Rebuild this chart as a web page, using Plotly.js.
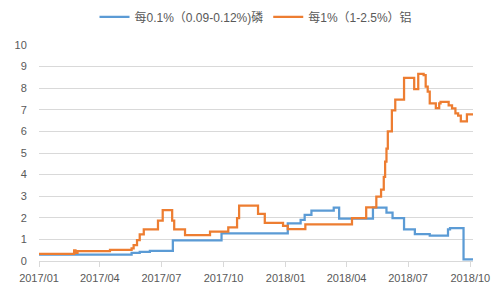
<!DOCTYPE html>
<html>
<head>
<meta charset="utf-8">
<script src="https://cdn.plot.ly/plotly-3.0.1.min.js"></script>
<style>html,body{margin:0;padding:0;background:#fff;}#chart{width:493px;height:296px;}</style>
</head>
<body>
<div id="chart"></div>
<script>
// Series 1: 每0.1%（0.09-0.12%)磷 (step change points)
var pDates = ['2017-01-01','2017-05-18','2017-05-30','2017-06-14','2017-07-18','2017-09-28',
  '2018-01-04','2018-01-23','2018-01-29','2018-02-08','2018-03-13','2018-03-21','2018-05-10',
  '2018-05-30','2018-06-08','2018-06-25','2018-07-11','2018-08-02','2018-08-29','2018-09-01',
  '2018-09-21','2018-10-05'];
var pValues = [0.30,0.38,0.42,0.47,0.95,1.28,
  1.74,1.90,2.13,2.33,2.47,1.96,2.47,
  2.24,1.98,1.47,1.25,1.17,1.47,1.52,
  0.08,0.08];

// Series 2: 每1%（1-2.5%）铝 (step change points)
var aDates = ['2017-01-01','2017-02-22','2017-02-24','2017-02-27','2017-04-16','2017-05-18',
  '2017-05-21','2017-05-26','2017-05-30','2017-06-05','2017-06-26','2017-07-03','2017-07-17',
  '2017-07-20','2017-08-05','2017-09-11','2017-10-08','2017-10-21','2017-10-24','2017-11-21',
  '2017-12-01','2017-12-28','2018-01-04','2018-01-30','2018-04-09','2018-04-30','2018-05-15',
  '2018-05-22','2018-05-26','2018-05-28','2018-05-30','2018-06-01','2018-06-07','2018-06-12',
  '2018-06-25','2018-07-10','2018-07-16','2018-07-24','2018-07-27','2018-07-30','2018-08-02',
  '2018-08-11','2018-08-16','2018-08-18','2018-08-30','2018-09-04','2018-09-09','2018-09-13',
  '2018-09-17','2018-09-26','2018-10-05'];
var aValues = [0.33,0.49,0.38,0.46,0.52,0.59,
  0.74,0.97,1.23,1.47,1.87,2.36,1.87,
  1.47,1.20,1.36,1.56,1.98,2.56,2.18,
  1.77,1.63,1.48,1.70,1.98,2.48,2.98,
  3.30,3.90,4.60,5.20,6.00,6.97,7.47,
  8.48,7.96,8.66,8.60,8.07,7.84,7.30,
  7.08,7.30,7.37,7.20,7.07,6.84,6.73,
  6.47,6.79,6.79];

var seriesNames = ['每0.1%（0.09-0.12%)磷','每1%（1-2.5%）铝'];
var tickDates = ['2017-01-01','2017-04-01','2017-07-01','2017-10-01','2018-01-01','2018-04-01','2018-07-01','2018-10-01'];
var tickLabels = ['2017/01','2017/04','2017/07','2017/10','2018/01','2018/04','2018/07','2018/10'];
var yTicks = [0,1,2,3,4,5,6,7,8,9,10];

var font = 'Liberation Sans, Arial, Noto Sans CJK SC, sans-serif';
var traces = [
  {x: pDates, y: pValues, name: seriesNames[0], type: 'scatter', mode: 'lines',
   line: {color: '#5b9bd5', width: 2.25, shape: 'hv'}},
  {x: aDates, y: aValues, name: seriesNames[1], type: 'scatter', mode: 'lines',
   line: {color: '#ed7d31', width: 2.25, shape: 'hv'}}
];
var layout = {
  width: 493, height: 296,
  margin: {l: 39, r: 20, t: 45, b: 35, autoexpand: false},
  paper_bgcolor: '#ffffff', plot_bgcolor: '#ffffff',
  font: {family: font, size: 11, color: '#595959'},
  showlegend: true,
  legend: {orientation: 'h', x: 0.5, xanchor: 'center', y: 1.13, yanchor: 'middle',
           font: {family: font, size: 12, color: '#595959'}, itemwidth: 30},
  xaxis: {type: 'date', range: ['2017-01-01','2018-10-05'], tickvals: tickDates, ticktext: tickLabels,
          showgrid: false, zeroline: false, showline: true, linecolor: '#d9d9d9', linewidth: 1,
          ticks: 'outside', ticklen: 5, tickcolor: '#d9d9d9', ticklabelstandoff: 2,
          tickfont: {size: 11, color: '#595959'}},
  yaxis: {range: [0, 10], tickvals: yTicks, showgrid: true, gridcolor: '#d9d9d9', gridwidth: 1,
          zeroline: false, showline: false, ticks: 'outside', ticklen: 9, tickcolor: 'rgba(0,0,0,0)',
          tickfont: {size: 11, color: '#595959'}}
};
Plotly.newPlot('chart', traces, layout, {displayModeBar: false, staticPlot: true});
</script>
</body>
</html>
